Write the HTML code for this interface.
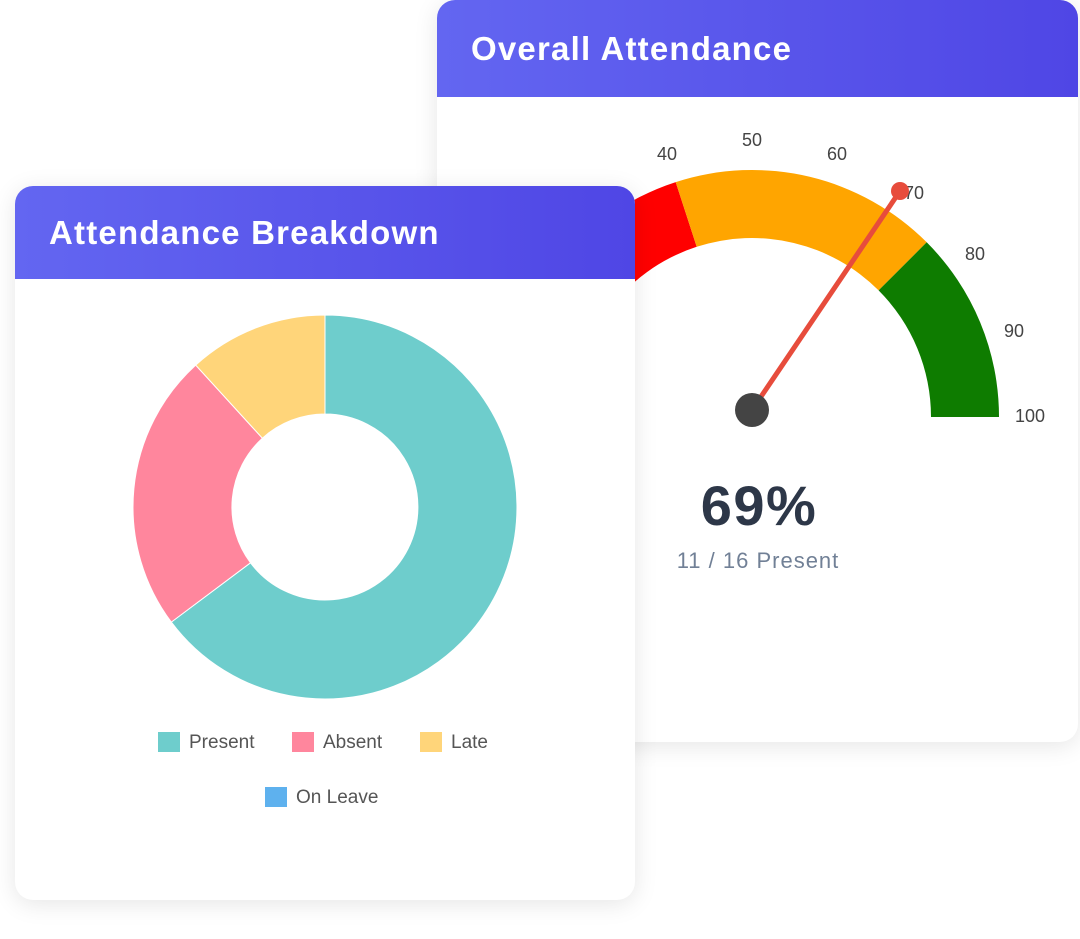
<!DOCTYPE html>
<html><head><style>
body{margin:0;width:1080px;height:939px;background:#fff;position:relative;overflow:hidden;font-family:"Liberation Sans",sans-serif}
.card{position:absolute;background:#fff;border-radius:18px;overflow:hidden;box-shadow:0 4px 24px rgba(0,0,0,0.10)}
.hdr{background:linear-gradient(90deg,#6366f1,#4f46e5);color:#fff;font-weight:bold;font-size:33px;letter-spacing:1.2px;box-sizing:border-box;padding-left:34px}
</style></head><body>
<div class="card" style="left:437px;top:0;width:641px;height:742px;border-radius:18px">
 <div class="hdr" style="height:97px;line-height:97px">Overall Attendance</div>
</div>
<svg style="position:absolute;left:0;top:0" width="1080" height="939">
 <g transform="translate(752,417)">
  <path d="M-247,0 A247,247 0 0 1 -76.3,-234.9 L-55.3,-170.2 A179,179 0 0 0 -179,0Z" fill="#ff0000"/>
  <path d="M-76.3,-234.9 A247,247 0 0 1 174.7,-174.7 L126.6,-126.6 A179,179 0 0 0 -55.3,-170.2Z" fill="#ffa500"/>
  <path d="M174.7,-174.7 A247,247 0 0 1 247,0 L179,0 A179,179 0 0 0 126.6,-126.6Z" fill="#0e7c00"/>
  <g font-size="18" fill="#444" text-anchor="middle" dominant-baseline="middle">
   <text x="-85" y="-262">40</text><text x="0" y="-276">50</text><text x="85" y="-262">60</text>
   <text x="162" y="-223">70</text><text x="223" y="-162">80</text><text x="262" y="-85">90</text><text x="278" y="0">100</text>
  </g>
  <line x1="0" y1="-7" x2="148" y2="-226" stroke="#e74c3c" stroke-width="5" stroke-linecap="round"/>
  <circle cx="148" cy="-226" r="9" fill="#e74c3c"/>
  <circle cx="0" cy="-7" r="17" fill="#444"/>
 </g>
 <text x="759" y="525" text-anchor="middle" font-size="56" font-weight="bold" fill="#2d3748" letter-spacing="1.5">69%</text>
 <text x="758" y="568" text-anchor="middle" font-size="22" fill="#718096" letter-spacing="1">11 / 16 Present</text>
</svg>
<div class="card" style="left:15px;top:186px;width:620px;height:714px">
 <div class="hdr" style="height:93px;line-height:93px">Attendance Breakdown</div>
 <svg style="position:absolute;left:0;top:0" width="620" height="714">
  <g transform="translate(310,321)">
   <path d="M0,-192 A192,192 0 1 1 -153.7,115.1 L-74.5,55.8 A93,93 0 1 0 0,-93Z" fill="#6ecdcc" stroke="#fff" stroke-width="1"/>
   <path d="M-153.7,115.1 A192,192 0 0 1 -129.3,-141.9 L-62.6,-68.8 A93,93 0 0 0 -74.5,55.8Z" fill="#ff869d" stroke="#fff" stroke-width="1"/>
   <path d="M-129.3,-141.9 A192,192 0 0 1 0,-192 L0,-93 A93,93 0 0 0 -62.6,-68.8Z" fill="#ffd57a" stroke="#fff" stroke-width="1"/>
  </g>
  <g font-size="19" fill="#555">
   <rect x="143" y="546" width="22" height="20" fill="#6ecdcc"/><text x="174" y="562">Present</text>
   <rect x="277" y="546" width="22" height="20" fill="#ff869d"/><text x="308" y="562">Absent</text>
   <rect x="405" y="546" width="22" height="20" fill="#ffd57a"/><text x="436" y="562">Late</text>
   <rect x="250" y="601" width="22" height="20" fill="#5eb1ee"/><text x="281" y="617">On Leave</text>
  </g>
 </svg>
</div>
</body></html>
